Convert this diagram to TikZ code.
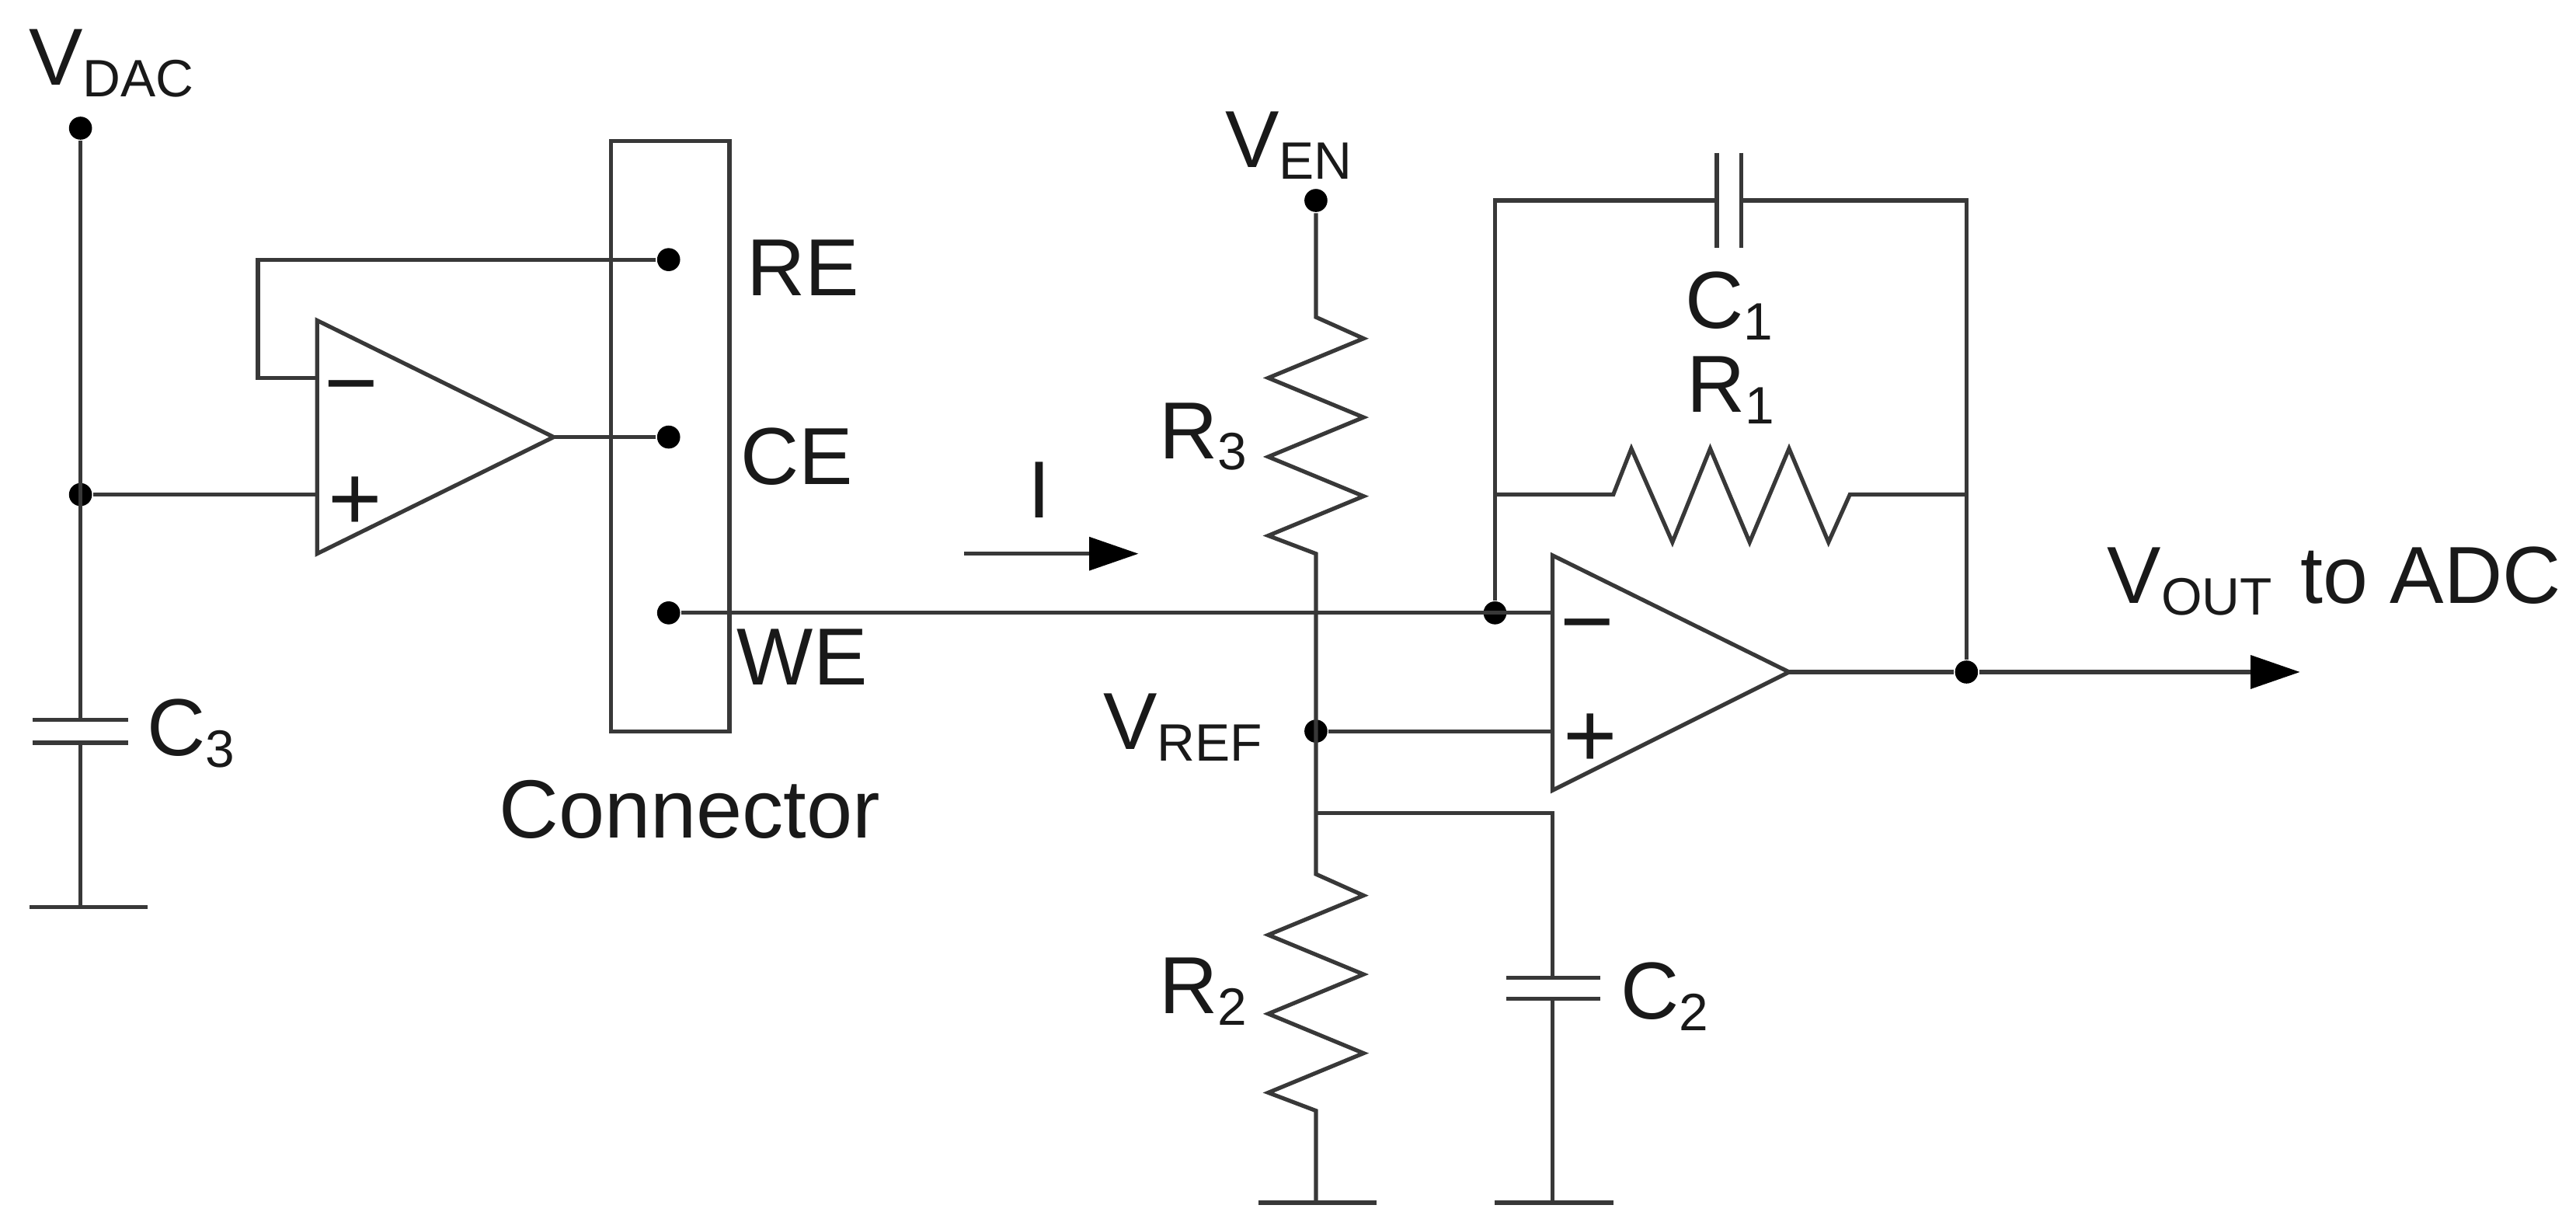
\documentclass[tikz,border=0pt]{standalone}
\usepackage{fontspec}
\setmainfont{Liberation Sans}
\usetikzlibrary{arrows.meta}

\newcommand{\lowtxt}[1]{\raisebox{-2pt}{\fontsize{9.1}{10}\selectfont #1}}

\tikzset{
    wire/.style={line width=0.7pt, draw=black!78},
    dot/.style={circle, fill=black, inner sep=0pt, minimum size=0.14cm},
    lab/.style={anchor=base west, inner sep=0pt, text=black!90, font=\fontsize{14}{16}\selectfont},
    sign/.style={inner sep=0pt, text=black!90, font=\fontsize{16}{16}\selectfont},
    tip/.style={-{Triangle[length=0.3cm,width=0.2cm,color=black]}}
}

\begin{document}
\begin{tikzpicture}[x=0.01cm,y=-0.01cm]
    \useasboundingbox (0,0) rectangle (1568,745.7);

    % Dots
    \node[dot] (dac)  at (49,78) {};
    \node[dot] (in)   at (49,301) {};
    \node[dot] (re)   at (407,158) {};
    \node[dot] (ce)   at (407,266) {};
    \node[dot] (we)   at (407,373) {};
    \node[dot] (en)   at (801,122) {};
    \node[dot] (ref)  at (801,445) {};
    \node[dot] (neg)  at (910,373) {};
    \node[dot] (out)  at (1197,409) {};

    % Corners and ends
    \coordinate (c3a) at (49,438);
    \coordinate (c3b) at (49,452);
    \coordinate (gnd3) at (49,552);
    \coordinate (a1m) at (193,230);
    \coordinate (a1p) at (193,301);
    \coordinate (a1o) at (337,266);
    \coordinate (fb1) at (157,230);
    \coordinate (fb2) at (157,158);
    \coordinate (r3a) at (801,193);
    \coordinate (r3b) at (801,337);
    \coordinate (r2a) at (801,532);
    \coordinate (r2b) at (801,676);
    \coordinate (gnd2) at (801,732);
    \coordinate (tap) at (801,495);
    \coordinate (tapc) at (945,495);
    \coordinate (c2a) at (945,595);
    \coordinate (c2b) at (945,608);
    \coordinate (gndc) at (945,732);
    \coordinate (a2m) at (945,373);
    \coordinate (a2p) at (945,445);
    \coordinate (a2o) at (1089,409);
    \coordinate (tl) at (910,122);
    \coordinate (tr) at (1197,122);
    \coordinate (c1a) at (1045,122);
    \coordinate (c1b) at (1060,122);
    \coordinate (ml) at (910,301);
    \coordinate (mr) at (1197,301);
    \coordinate (r1a) at (982,301);
    \coordinate (r1b) at (1126,301);
    \coordinate (outend) at (1400,409);
    \coordinate (ia) at (587,337);
    \coordinate (ib) at (693,337);

    % Connector
    \draw[wire] (372,86) rectangle (444,445);

    % Op amps
    \draw[wire] (193,195) -- (193,337) -- (a1o) -- cycle;
    \draw[wire] (945,338) -- (945,481) -- (a2o) -- cycle;
    \node[sign] (m1) at (214,242) {\textminus};
    \node[sign] (p1) at (216,306.5) {+};
    \node[sign] (m2) at (966,387) {\textminus};
    \node[sign] (p2) at (968,450.5) {+};

    % Left side
    \draw[wire] (dac) -- (c3a);
    \draw[wire] (c3b) -- (gnd3);
    \draw[wire] (20,438) -- (78,438);
    \draw[wire] (20,452) -- (78,452);
    \draw[wire] (18,552) -- (90,552);
    \draw[wire] (in) -- (a1p);
    \draw[wire] (a1m) -- (fb1) -- (fb2) -- (re);
    \draw[wire] (a1o) -- (ce);

    % Divider
    \draw[wire] (en) -- (r3a) -- ++(29,13) -- ++(-58,24) -- ++(58,24) -- ++(-58,24)
        -- ++(58,24) -- ++(-58,24) -- (r3b) -- (r2a) -- ++(29,13) -- ++(-58,24)
        -- ++(58,24) -- ++(-58,24) -- ++(58,24) -- ++(-58,24) -- (r2b) -- (gnd2);
    \draw[wire] (766,732) -- (838,732);
    \draw[wire] (ref) -- (a2p);
    \draw[wire] (tap) -- (tapc) -- (c2a);
    \draw[wire] (c2b) -- (gndc);
    \draw[wire] (917,595) -- (974,595);
    \draw[wire] (917,608) -- (974,608);
    \draw[wire] (910,732) -- (982,732);

    % Feedback
    \draw[wire] (we) -- (a2m);
    \draw[wire] (neg) -- (tl) -- (c1a);
    \draw[wire] (c1b) -- (tr) -- (out);
    \draw[wire] (1045,93) -- (1045,151);
    \draw[wire] (1060,93) -- (1060,151);
    \draw[wire] (ml) -- (r1a) -- (993,273) -- (1018,330) -- (1041,273) -- (1065,330)
        -- (1089,273) -- (1113,330) -- (r1b) -- (mr);
    \draw[wire] (a2o) -- (out);
    \draw[wire,tip] (out) -- (outend);
    \draw[wire,tip] (ia) -- (ib);

    % Labels
    \node[lab] (lvdac) at (17,52) {V\lowtxt{DAC}};
    \node[lab] (lc3) at (89,460) {C\lowtxt{3}};
    \node[lab] (lre) at (454,180) {RE};
    \node[lab] (lce) at (450,295) {CE};
    \node[lab] (lwe) at (448,417) {WE};
    \node[lab,font=\fontsize{14.3}{16}\selectfont] (lcon) at (303,510) {Connector};
    \node[lab] (li) at (625,315) {I};
    \node[lab] (lven) at (745,102) {V\lowtxt{EN}};
    \node[lab] (lr3) at (705,279) {R\lowtxt{3}};
    \node[lab] (lvref) at (671,456) {V\lowtxt{REF}};
    \node[lab] (lr2) at (705,617) {R\lowtxt{2}};
    \node[lab] (lc2) at (986,620) {C\lowtxt{2}};
    \node[lab] (lc1) at (1025,200) {C\lowtxt{1}};
    \node[lab] (lr1) at (1026,251) {R\lowtxt{1}};
    \node[lab] (lvout) at (1282,367) {V\lowtxt{OUT}\hspace{1pt} to ADC};
\end{tikzpicture}
\end{document}
